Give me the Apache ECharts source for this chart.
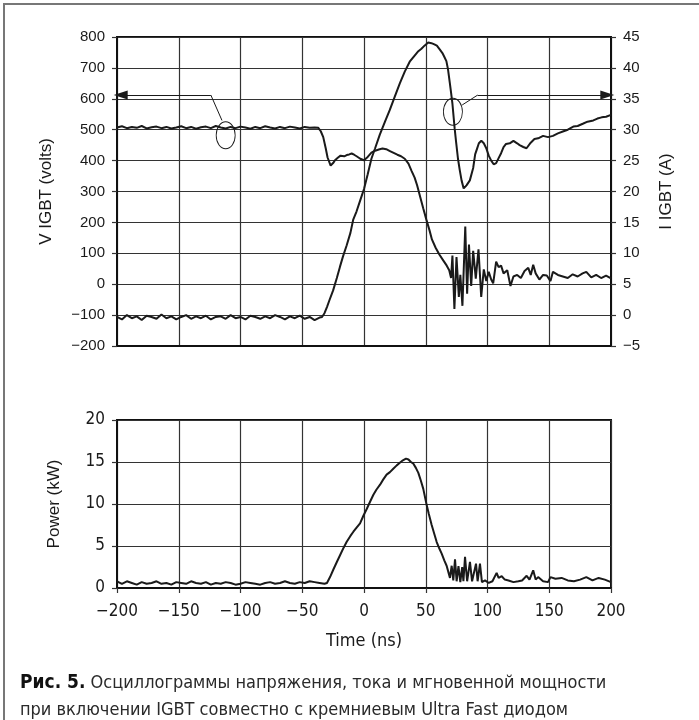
<!DOCTYPE html>
<html>
<head>
<meta charset="utf-8">
<script src="https://cdn.jsdelivr.net/npm/echarts@6/dist/echarts.min.js"></script>
<style>
  html, body { margin: 0; padding: 0; background: #fff; }
  #chart { width: 699px; height: 720px; }
</style>
</head>
<body>
<div id="chart"></div>
<script>
// V IGBT (volts)
const timeV = [
  -200, -196, -192, -188, -184, -180, -176, -172, -168, -164, -160, -156, -152, -148,
  -144, -140, -136, -132, -128, -124, -120, -116, -112, -108, -104, -100, -96, -92,
  -88, -84, -80, -76, -72, -68, -64, -60, -56, -52, -48, -44, -40,
  -37, -35, -33, -31, -29.5, -27, -25, -23.5, -21, -19, -16, -14, -12, -10, -8, -6, -3,
  0, 3, 6, 9, 12, 15, 18, 21, 24, 27, 30, 33, 36, 38.5, 41, 43, 46, 48, 50.5, 53, 55,
  58, 61, 64, 67, 69, 70.5, 71.6, 73.2, 74.9, 76.8, 78, 79.7, 82, 83.5, 85, 86.8, 88.4,
  90.5, 92.7, 94.9, 97, 99, 101, 103, 104.6, 107, 109, 111, 113, 116, 118.6, 121, 124,
  127, 130, 133, 135, 137, 139, 142, 145, 148, 151, 153, 157, 161, 165, 169, 173, 177,
  180, 184, 188, 192, 196, 200
];
const voltage = [
  507, 511, 505, 509, 506, 512, 504, 508, 510, 505, 509, 504, 507, 511, 505, 509,
  503, 508, 510, 505, 512, 507, 504, 509, 505, 510, 507, 503, 509, 505, 511, 507,
  504, 509, 505, 510, 507, 504, 509, 506, 507,
  506, 495, 476, 440, 410, 384, 392, 401, 410, 416, 414, 418, 420, 423, 419, 414, 406,
  401, 412, 426, 432, 436, 439, 437, 431, 425, 419, 414, 406, 390, 367, 345, 320, 275,
  245, 209, 175, 145, 118, 96, 78, 60, 45, 20, 93, -80, 88, -41, 30, -70, 187, -31, 128,
  -6, 108, 18, 113, -41, 48, 10, 40, 15, 3, 73, 55, 60, 35, 45, -6, 25, 30, 20, 43, 53,
  30, 63, 35, 15, 30, 28, 10, 40, 30, 25, 20, 32, 25, 35, 40, 22, 30, 20, 28, 19
];

// I IGBT (A)
const timeI = [
  -200, -196, -192, -188, -184, -180, -176, -172, -168, -164, -160, -156, -152, -148,
  -144, -140, -136, -132, -128, -124, -120, -116, -112, -108, -104, -100, -96, -92,
  -88, -84, -80, -76, -72, -68, -64, -60, -56, -52, -48, -44, -40, -36,
  -34, -32, -30, -28, -25, -22, -19.5, -17, -14, -11, -8.8, -6, -3, 0, 3, 6, 9, 12.8,
  17, 20.9, 25, 29, 33, 37, 41, 44, 46.5, 49, 52, 54.6, 57, 59, 61.3, 63.5, 65, 66.7,
  68, 69.4, 70.5, 71.6, 73.4, 74.7, 76.1, 77.5, 79, 80.7, 81.6, 83, 85.7, 88.4, 90,
  91.5, 93, 95, 97, 99, 101, 103, 105, 107, 109, 111, 113, 115, 118, 121, 124, 126,
  129, 131.6, 135, 138, 141, 145, 149, 153, 157, 161, 165, 169.5, 173, 177.6, 181,
  185.7, 189, 192.4, 196, 200
];
const current = [
  -0.3, -0.7, 0.0, -0.5, -0.2, -0.8, -0.1, -0.3, -0.6, 0.1, -0.5, -0.2, -0.7, -0.3,
  0.0, -0.6, -0.2, -0.5, -0.1, -0.7, -0.3, -0.2, -0.6, 0.0, -0.5, -0.3, -0.7, -0.1,
  -0.3, -0.6, -0.2, -0.5, 0.0, -0.3, -0.7, -0.2, -0.5, -0.1, -0.6, -0.3, -0.8, -0.4,
  -0.3, 0.3, 1.3, 2.4, 4.0, 6.0, 7.8, 9.5, 11.3, 13.3, 15.4, 16.8, 18.6, 20.4, 22.8,
  25.3, 27.0, 29.2, 31.3, 33.2, 35.4, 37.5, 39.4, 41.0, 42.0, 42.7, 43.1, 43.6, 44.1,
  44.0, 43.8, 43.6, 43.0, 42.4, 41.8, 41.1, 39.8, 37.7, 36.0, 34.2, 30.2, 27.8, 25.3,
  23.5, 21.8, 20.5, 20.2, 21.0, 21.8, 23.8, 26.0, 26.9, 27.8, 28.2, 27.8, 27.0, 25.8,
  25.0, 24.4, 24.6, 25.4, 26.2, 27.2, 27.7, 27.8, 28.2, 27.8, 27.5, 27.2, 27.0, 27.9,
  28.5, 28.6, 29.0, 28.8, 29.0, 29.4, 29.7, 30.0, 30.5, 30.6, 31.0, 31.3, 31.5, 31.8,
  32.0, 32.1, 32.4
];

// Power (kW)
const timeP = [
  -200, -196, -192, -188, -184, -180, -176, -172, -168, -164, -160, -156, -152, -148,
  -144, -140, -136, -132, -128, -124, -120, -116, -112, -108, -104, -100, -96, -92,
  -88, -84, -80, -76, -72, -68, -64, -60, -56, -52, -48, -44, -40, -36, -32,
  -30, -27.5, -24.8, -22, -19.4, -16.5, -14, -11, -8.6, -6, -3.2, -0.5, 2.2, 5, 7.6,
  10, 13, 15.5, 18.3, 21, 23.7, 26.5, 29, 31.5, 34, 36, 38, 40, 42, 44, 46, 48, 50.7,
  52.5, 54.8, 57, 58.8, 61, 62.9, 65, 66.9, 68.5, 69.6, 71, 72.3, 73.7, 75, 76.5, 78,
  79.5, 80.5, 81.8, 83.5, 85.8, 87.5, 90.7, 92, 93.9, 95.5, 98, 101, 104, 107.4, 109,
  111.5, 114, 117, 121, 125, 128, 131.7, 134, 137, 139, 141, 145, 149, 151, 155, 160,
  165, 170, 175, 180, 185, 190, 195, 200
];
const power = [
  0.8, 0.5, 0.8, 0.6, 0.4, 0.7, 0.5, 0.6, 0.8, 0.5, 0.6, 0.4, 0.7, 0.6, 0.5, 0.8, 0.6,
  0.5, 0.7, 0.4, 0.6, 0.5, 0.7, 0.6, 0.4, 0.5, 0.7, 0.6, 0.5, 0.4, 0.6, 0.7, 0.5, 0.6,
  0.8, 0.6, 0.5, 0.7, 0.6, 0.8, 0.7, 0.6, 0.5,
  0.6, 1.3, 2.2, 3.1, 3.9, 4.8, 5.5, 6.2, 6.7, 7.2, 7.7, 8.6, 9.4, 10.3, 11.1, 11.7,
  12.3, 12.9, 13.5, 13.8, 14.2, 14.6, 14.9, 15.2, 15.4, 15.3, 15.0, 14.8, 14.3, 13.7,
  12.8, 11.8, 9.9, 8.8, 7.5, 6.4, 5.5, 4.7, 4.1, 3.3, 2.65, 1.8, 1.2, 2.65, 0.9, 3.4,
  0.8, 2.6, 0.7, 2.5, 0.8, 3.7, 0.8, 3.1, 0.8, 2.9, 0.8, 2.9, 0.7, 0.9, 0.6, 0.8, 1.8,
  1.2, 1.4, 1.0, 0.9, 0.7, 0.8, 0.9, 1.45, 1.0, 2.1, 1.0, 1.3, 0.8, 0.7, 1.3, 1.1, 1.2,
  0.9, 0.8, 1.0, 1.3, 0.9, 1.2, 1.0, 0.7
];

const captionBold = 'Рис. 5.';
const captionLine1 = 'Осциллограммы напряжения, тока и мгновенной мощности';
const captionLine2 = 'при включении IGBT совместно с кремниевым Ultra Fast диодом';

const ARIAL = "'Liberation Sans', Arial, sans-serif";
const NARROW = "'Liberation Sans Narrow', 'DejaVu Sans Condensed', 'Roboto', sans-serif";
const INK = '#1a1a1a';

function zip(xs, ys) {
  return xs.map((x, i) => [x, ys[i]]);
}

function minus(v) {
  return String(v).replace('-', '\u2212');
}

const gridLine = { show: true, lineStyle: { color: '#333', width: 1.2 } };
const tick = { show: true, length: 5, lineStyle: { color: '#333', width: 1.2 } };
const axisLine = { show: true, onZero: false, lineStyle: { color: '#111', width: 2 } };

// arrow + ellipse callouts, in data units
function callout(bend, tip, from, ellipse, size) {
  return {
    markLine: {
      silent: true, animation: false,
      lineStyle: { color: INK, width: 1, type: 'solid' },
      label: { show: false },
      symbolSize: [9, 14],
      data: [
        [{ coord: bend, symbol: 'none' }, { coord: tip, symbol: 'triangle' }],
        [{ coord: from, symbol: 'none' }, { coord: bend, symbol: 'none' }]
      ]
    },
    markPoint: {
      silent: true, animation: false,
      symbol: 'circle', symbolSize: size,
      itemStyle: { color: 'rgba(0,0,0,0)', borderColor: INK, borderWidth: 1 },
      label: { show: false },
      data: [{ coord: ellipse }]
    }
  };
}

const chart = echarts.init(document.getElementById('chart'), null, { renderer: 'canvas' });

chart.setOption({
  animation: false,
  backgroundColor: '#fff',
  grid: [
    { left: 117, top: 37, width: 494, height: 309, show: true, borderColor: '#111', borderWidth: 2 },
    { left: 117, top: 420, width: 494, height: 168, show: true, borderColor: '#111', borderWidth: 2 }
  ],
  xAxis: [
    {
      gridIndex: 0, type: 'value', min: -200, max: 200, interval: 50,
      axisLine: axisLine, axisTick: { show: false }, axisLabel: { show: false },
      splitLine: gridLine
    },
    {
      gridIndex: 1, type: 'value', min: -200, max: 200, interval: 50,
      name: 'Time (ns)', nameLocation: 'middle', nameGap: 44,
      nameTextStyle: { fontFamily: NARROW, fontSize: 18, color: INK },
      axisLine: axisLine, axisTick: tick,
      axisLabel: { fontFamily: NARROW, fontSize: 17, color: INK, margin: 15, formatter: minus },
      splitLine: gridLine
    }
  ],
  yAxis: [
    {
      gridIndex: 0, type: 'value', position: 'left', min: -200, max: 800, interval: 100,
      name: 'V IGBT (volts)', nameLocation: 'middle', nameGap: 62, nameRotate: 90,
      nameTextStyle: { fontFamily: ARIAL, fontSize: 17, color: INK },
      axisLine: axisLine, axisTick: tick,
      axisLabel: { fontFamily: ARIAL, fontSize: 15, color: INK, margin: 12, formatter: minus },
      splitLine: gridLine
    },
    {
      gridIndex: 0, type: 'value', position: 'right', min: -5, max: 45, interval: 5,
      name: 'I IGBT (A)', nameLocation: 'middle', nameGap: 47, nameRotate: 90,
      nameTextStyle: { fontFamily: ARIAL, fontSize: 17, color: INK },
      axisLine: axisLine, axisTick: tick,
      axisLabel: { fontFamily: ARIAL, fontSize: 15, color: INK, margin: 12, formatter: minus },
      splitLine: { show: false }
    },
    {
      gridIndex: 1, type: 'value', min: 0, max: 20, interval: 5,
      name: 'Power (kW)', nameLocation: 'middle', nameGap: 54, nameRotate: 90,
      nameTextStyle: { fontFamily: ARIAL, fontSize: 17, color: INK },
      axisLine: axisLine, axisTick: tick,
      axisLabel: { fontFamily: NARROW, fontSize: 17, color: INK, margin: 12 },
      splitLine: gridLine
    }
  ],
  series: [
    Object.assign({
      name: 'V IGBT', type: 'line', xAxisIndex: 0, yAxisIndex: 0,
      data: zip(timeV, voltage), showSymbol: false,
      lineStyle: { color: INK, width: 2 }
    }, callout([-124, 612], [-197, 612], [-115, 530], [-112, 482], [19, 27])),
    Object.assign({
      name: 'I IGBT', type: 'line', xAxisIndex: 0, yAxisIndex: 1,
      data: zip(timeI, current), showSymbol: false,
      lineStyle: { color: INK, width: 2 }
    }, callout([92, 35.6], [197, 35.6], [79.5, 34.0], [72, 32.9], [19, 27])),
    {
      name: 'Power', type: 'line', xAxisIndex: 1, yAxisIndex: 2,
      data: zip(timeP, power), showSymbol: false,
      lineStyle: { color: INK, width: 2 }
    }
  ],
  graphic: [
    {
      type: 'polyline', silent: true,
      shape: { points: [[4, 720], [4, 4], [699, 4]] },
      style: { stroke: '#777', lineWidth: 2, fill: null }
    },
    {
      type: 'text', left: 20, top: 674, silent: true,
      style: {
        text: '{b|' + captionBold + '} ' + captionLine1,
        font: '18px ' + NARROW, fill: '#2a2a2a',
        rich: { b: { fontWeight: 'bold', fontSize: 19, fontFamily: NARROW, fill: '#111' } }
      }
    },
    {
      type: 'text', left: 20, top: 701, silent: true,
      style: { text: captionLine2, font: '18px ' + NARROW, fill: '#2a2a2a' }
    }
  ]
});
</script>
</body>
</html>
